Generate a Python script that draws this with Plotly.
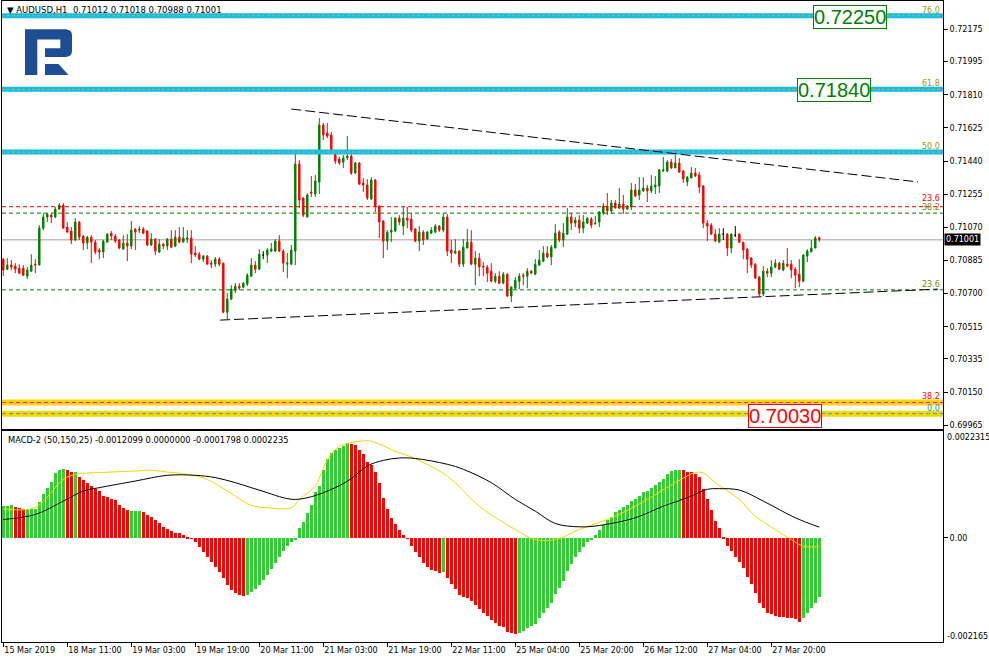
import plotly.graph_objects as go

# ---------------- data ----------------
opens = [0.70892,0.70836,0.70859,0.70853,0.70842,0.70842,0.70797,0.70825,0.70864,0.70859,
 0.71065,0.71127,0.71138,0.71127,0.71172,0.71194,0.71071,0.71049,0.70999,0.71099,
 0.71021,0.70982,0.71015,0.70987,0.70943,0.70932,0.70987,0.71037,0.71021,0.70999,
 0.70948,0.70982,0.70965,0.71060,0.71054,0.71060,0.71049,0.70971,0.71004,0.70932,
 0.70976,0.70965,0.71004,0.70965,0.71015,0.70987,0.71004,0.71010,0.70926,0.70920,
 0.70892,0.70909,0.70870,0.70864,0.70892,0.70870,0.70596,0.70669,0.70719,0.70741,
 0.70736,0.70753,0.70797,0.70859,0.70836,0.70915,0.70915,0.70937,0.70937,0.70993,
 0.70937,0.70864,0.70864,0.70937,0.71423,0.71233,0.71127,0.71267,0.71256,0.71323,
 0.71641,0.71596,0.71585,0.71485,0.71451,0.71434,0.71457,0.71468,0.71373,0.71429,
 0.71317,0.71306,0.71228,0.71334,0.71188,0.71105,0.70993,0.71043,0.71049,0.71121,
 0.71077,0.71121,0.71116,0.71060,0.70993,0.71043,0.71004,0.71037,0.71043,0.71077,
 0.71054,0.71127,0.70943,0.70926,0.70937,0.70864,0.70954,0.70987,0.70864,0.70898,
 0.70853,0.70848,0.70825,0.70769,0.70797,0.70758,0.70808,0.70686,0.70730,0.70769,
 0.70803,0.70797,0.70825,0.70808,0.70859,0.70881,0.70926,0.70904,0.70954,0.71043,
 0.70999,0.71032,0.71127,0.71093,0.71110,0.71065,0.71093,0.71116,0.71088,0.71099,
 0.71149,0.71188,0.71161,0.71205,0.71177,0.71200,0.71172,0.71183,0.71278,0.71250,
 0.71272,0.71289,0.71272,0.71295,0.71300,0.71384,0.71384,0.71434,0.71401,0.71429,
 0.71384,0.71323,0.71345,0.71373,0.71362,0.71300,0.71093,0.71082,0.71032,0.70987,
 0.71032,0.71032,0.70954,0.71026,0.71032,0.70987,0.70948,0.70898,0.70864,0.70792,
 0.70697,0.70825,0.70814,0.70848,0.70870,0.70831,0.70864,0.70864,0.70836,0.70808,
 0.70769,0.70909,0.70932,0.70954,0.71012]

highs = [0.70898,0.70898,0.70887,0.70870,0.70864,0.70859,0.70848,0.70920,0.70892,0.71082,
 0.71149,0.71149,0.71149,0.71183,0.71205,0.71205,0.71099,0.71071,0.71121,0.71105,
 0.71026,0.71021,0.71026,0.70999,0.70954,0.70999,0.71037,0.71049,0.71032,0.71004,
 0.71026,0.71032,0.71105,0.71065,0.71077,0.71071,0.71054,0.71037,0.71010,0.71004,
 0.70982,0.71010,0.71054,0.71054,0.71071,0.71071,0.71054,0.71054,0.70965,0.70932,
 0.70915,0.70915,0.70887,0.70904,0.70904,0.70870,0.70703,0.70747,0.70758,0.70758,
 0.70764,0.70814,0.70898,0.70881,0.70948,0.70937,0.70954,0.70982,0.71004,0.71026,
 0.70948,0.70926,0.70971,0.71496,0.71445,0.71239,0.71261,0.71356,0.71362,0.71680,
 0.71652,0.71652,0.71602,0.71490,0.71462,0.71473,0.71579,0.71479,0.71434,0.71434,
 0.71345,0.71339,0.71350,0.71339,0.71194,0.71110,0.71054,0.71127,0.71127,0.71138,
 0.71183,0.71183,0.71149,0.71065,0.71077,0.71054,0.71049,0.71071,0.71088,0.71082,
 0.71149,0.71144,0.70999,0.71004,0.70943,0.71004,0.71060,0.71054,0.70937,0.70926,
 0.70876,0.70859,0.70870,0.70814,0.70825,0.70820,0.70814,0.70741,0.70792,0.70814,
 0.70814,0.70842,0.70831,0.70892,0.70943,0.70965,0.70965,0.70971,0.71088,0.71054,
 0.71093,0.71177,0.71149,0.71127,0.71138,0.71138,0.71127,0.71127,0.71133,0.71161,
 0.71205,0.71261,0.71222,0.71222,0.71289,0.71250,0.71194,0.71317,0.71311,0.71350,
 0.71350,0.71306,0.71362,0.71356,0.71395,0.71462,0.71445,0.71451,0.71473,0.71457,
 0.71390,0.71356,0.71406,0.71401,0.71378,0.71306,0.71110,0.71093,0.71060,0.71065,
 0.71065,0.71037,0.71037,0.71077,0.71037,0.70987,0.70954,0.70904,0.70870,0.70797,
 0.70853,0.70842,0.70887,0.70892,0.70876,0.70887,0.70954,0.70887,0.70848,0.70892,
 0.70920,0.70948,0.70999,0.71021,0.71018]

lows = [0.70798,0.70831,0.70831,0.70814,0.70808,0.70797,0.70781,0.70820,0.70814,0.70859,
 0.71054,0.71099,0.71093,0.71121,0.71166,0.71065,0.71043,0.70976,0.70993,0.70999,
 0.70943,0.70948,0.70870,0.70920,0.70892,0.70898,0.70987,0.70999,0.70982,0.70948,
 0.70948,0.70881,0.70948,0.70943,0.71037,0.71032,0.70965,0.70965,0.70915,0.70926,
 0.70948,0.70943,0.70954,0.70959,0.70982,0.70987,0.70982,0.70870,0.70904,0.70887,
 0.70876,0.70864,0.70842,0.70848,0.70853,0.70591,0.70557,0.70664,0.70703,0.70719,
 0.70730,0.70741,0.70792,0.70814,0.70831,0.70892,0.70870,0.70932,0.70932,0.70932,
 0.70820,0.70786,0.70859,0.70859,0.71177,0.71127,0.71127,0.71239,0.71239,0.71256,
 0.71557,0.71568,0.71479,0.71423,0.71418,0.71401,0.71445,0.71362,0.71367,0.71306,
 0.71267,0.71222,0.71222,0.71155,0.71010,0.70898,0.70943,0.70987,0.71043,0.71082,
 0.71026,0.71065,0.71043,0.70987,0.70937,0.70971,0.70999,0.71032,0.71037,0.71043,
 0.71043,0.70909,0.70870,0.70920,0.70848,0.70848,0.70954,0.70859,0.70747,0.70797,
 0.70797,0.70764,0.70764,0.70758,0.70753,0.70753,0.70680,0.70652,0.70725,0.70725,
 0.70747,0.70730,0.70808,0.70803,0.70853,0.70876,0.70898,0.70859,0.70954,0.70987,
 0.70959,0.71026,0.71054,0.71071,0.71037,0.71037,0.71088,0.71065,0.71088,0.71071,
 0.71138,0.71138,0.71144,0.71177,0.71172,0.71144,0.71166,0.71166,0.71239,0.71222,
 0.71267,0.71211,0.71261,0.71256,0.71261,0.71378,0.71378,0.71395,0.71401,0.71373,
 0.71317,0.71300,0.71345,0.71350,0.71261,0.71065,0.70993,0.71026,0.70987,0.70987,
 0.70999,0.70909,0.70926,0.71015,0.70982,0.70892,0.70814,0.70842,0.70786,0.70686,
 0.70686,0.70792,0.70792,0.70842,0.70831,0.70825,0.70848,0.70786,0.70730,0.70736,
 0.70764,0.70876,0.70932,0.70954,0.70988]

closes = [0.70831,0.70859,0.70848,0.70836,0.70814,0.70803,0.70831,0.70859,0.70859,0.71065,
 0.71127,0.71144,0.71127,0.71172,0.71194,0.71065,0.71043,0.70999,0.71099,0.71015,
 0.70982,0.71015,0.70987,0.70932,0.70932,0.70993,0.71032,0.71021,0.70993,0.70954,
 0.70982,0.70965,0.71054,0.71043,0.71060,0.71037,0.70971,0.71004,0.70937,0.70976,
 0.70965,0.71004,0.70959,0.71015,0.70987,0.71010,0.71010,0.70920,0.70915,0.70892,
 0.70909,0.70864,0.70864,0.70892,0.70864,0.70596,0.70669,0.70725,0.70741,0.70730,
 0.70758,0.70803,0.70859,0.70836,0.70920,0.70915,0.70943,0.70948,0.70993,0.70937,
 0.70870,0.70870,0.70943,0.71423,0.71222,0.71138,0.71250,0.71261,0.71328,0.71641,
 0.71585,0.71579,0.71485,0.71440,0.71429,0.71457,0.71468,0.71373,0.71429,0.71311,
 0.71306,0.71233,0.71334,0.71188,0.71099,0.70993,0.71043,0.71054,0.71121,0.71099,
 0.71121,0.71110,0.71054,0.70993,0.71043,0.70999,0.71043,0.71054,0.71077,0.71054,
 0.71127,0.70937,0.70926,0.70937,0.70864,0.70959,0.70987,0.70864,0.70898,0.70848,
 0.70848,0.70814,0.70769,0.70797,0.70758,0.70808,0.70686,0.70736,0.70775,0.70797,
 0.70797,0.70825,0.70814,0.70864,0.70887,0.70926,0.70904,0.70959,0.71037,0.70999,
 0.71037,0.71127,0.71093,0.71110,0.71065,0.71099,0.71121,0.71082,0.71093,0.71155,
 0.71188,0.71161,0.71205,0.71177,0.71200,0.71172,0.71188,0.71278,0.71244,0.71278,
 0.71289,0.71272,0.71300,0.71306,0.71390,0.71390,0.71434,0.71401,0.71429,0.71378,
 0.71339,0.71350,0.71373,0.71356,0.71295,0.71093,0.71077,0.71032,0.70993,0.71032,
 0.71032,0.70954,0.71032,0.71026,0.70987,0.70943,0.70892,0.70859,0.70786,0.70697,
 0.70825,0.70814,0.70848,0.70870,0.70836,0.70870,0.70853,0.70831,0.70803,0.70769,
 0.70915,0.70937,0.70954,0.71010,0.71001]

macd_hist = [0.000665,0.000674,0.000695,0.000647,0.000630,0.000620,0.000600,0.000605,0.000610,0.000765,
 0.000925,0.001043,0.001168,0.001356,0.001425,0.001439,0.001411,0.001377,0.001382,0.001272,
 0.001217,0.001161,0.001078,0.001029,0.000987,0.000883,0.000869,0.000827,0.000800,0.000695,
 0.000626,0.000591,0.000565,0.000570,0.000575,0.000556,0.000487,0.000438,0.000382,0.000313,
 0.000229,0.000202,0.000160,0.000118,0.000104,0.000076,0.000035,0.000007,-0.000083,-0.000188,
 -0.000292,-0.000396,-0.000501,-0.000605,-0.000709,-0.000834,-0.000960,-0.001064,-0.001126,-0.001168,
 -0.001189,-0.001168,-0.001106,-0.001043,-0.000960,-0.000876,-0.000772,-0.000647,-0.000522,-0.000396,
 -0.000271,-0.000167,-0.000083,-0.000021,0.000209,0.000348,0.000521,0.000695,0.000973,0.001092,
 0.001425,0.001648,0.001773,0.001829,0.001877,0.001926,0.001982,0.001968,0.001947,0.001843,
 0.001752,0.001578,0.001530,0.001380,0.001150,0.000830,0.000615,0.000415,0.000299,0.000181,
 0.000076,-0.000010,-0.000153,-0.000292,-0.000396,-0.000521,-0.000605,-0.000654,-0.000688,-0.000723,
 -0.000709,-0.000834,-0.000953,-0.001057,-0.001175,-0.001217,-0.001231,-0.001300,-0.001384,-0.001460,
 -0.001544,-0.001613,-0.001697,-0.001766,-0.001822,-0.001836,-0.001947,-0.001975,-0.001980,-0.001961,
 -0.001926,-0.001870,-0.001822,-0.001773,-0.001662,-0.001544,-0.001439,-0.001335,-0.001147,-0.001022,
 -0.000883,-0.000688,-0.000535,-0.000396,-0.000292,-0.000188,-0.000083,-0.000014,0.000076,0.000181,
 0.000285,0.000382,0.000452,0.000542,0.000591,0.000647,0.000702,0.000772,0.000820,0.000890,
 0.000960,0.000994,0.001050,0.001112,0.001168,0.001238,0.001328,0.001398,0.001425,0.001430,
 0.001411,0.001377,0.001370,0.001342,0.001272,0.001029,0.000820,0.000598,0.000369,0.000209,
 0.000035,-0.000167,-0.000271,-0.000382,-0.000501,-0.000619,-0.000793,-0.000953,-0.001126,-0.001335,
 -0.001439,-0.001544,-0.001578,-0.001613,-0.001634,-0.001640,-0.001648,-0.001662,-0.001683,-0.001731,
 -0.001648,-0.001544,-0.001453,-0.001335,-0.0012099]

# indicator buffer each histogram bar belongs to (G = up buffer, R = down buffer), run-length
hist_color_runs = [("G", 3), ("R", 3), ("G", 10), ("R", 2), ("G", 1), ("R", 13), ("G", 3),
                   ("R", 26), ("G", 26), ("R", 23), ("G", 1), ("R", 18), ("G", 41),
                   ("R", 30), ("G", 5)]

signal_idx = [0, 8, 15, 18, 24, 33, 37, 41, 46, 51, 54, 58, 62, 66, 72, 74, 78, 80, 82, 84,
              86, 89, 92, 94, 98, 102, 111, 119, 128, 133, 138, 144, 153, 161, 168, 173, 175,
              178, 184, 188, 193, 197, 200, 204]
signal_val = [0.000605, 0.000632, 0.001216, 0.00132, 0.001356, 0.001389, 0.001404, 0.001368,
              0.00132, 0.001216, 0.001076, 0.000868, 0.000674, 0.000626, 0.000626, 0.0008,
              0.00108, 0.00145, 0.00175, 0.0019, 0.00196, 0.00201, 0.00201, 0.00195, 0.0018,
              0.00168, 0.001285, 0.000659, 0.000173, -0.000035, -0.000035, 0.000173, 0.000451,
              0.000799, 0.001147, 0.001356, 0.00135, 0.001147, 0.000799, 0.000451, 0.000173,
              -0.000035, -0.000175, -0.0001798]

slow_idx = [0, 8, 15, 20, 24, 33, 41, 48, 53, 58, 62, 66, 70, 73, 77, 83, 87, 91, 95, 99, 103,
            111, 115, 122, 128, 133, 138, 144, 149, 158, 165, 171, 176, 179, 184, 190, 198, 204]
slow_val = [0.000382, 0.000486, 0.000764, 0.000972, 0.001043, 0.001181, 0.0013, 0.0013,
            0.001252, 0.001147, 0.001043, 0.000939, 0.000834, 0.000799, 0.000855, 0.001043,
            0.001231, 0.001494, 0.00161, 0.00166, 0.00165, 0.001529, 0.001425, 0.001147,
            0.000799, 0.000555, 0.000298, 0.000229, 0.000257, 0.000417, 0.000659, 0.000834,
            0.001008, 0.001022, 0.000993, 0.000764, 0.000417, 0.0002235]

time_label_bars = [0, 16, 32, 48, 64, 80, 96, 112, 128, 144, 160, 176, 192]
time_labels = ["15 Mar 2019", "18 Mar 11:00", "19 Mar 03:00", "19 Mar 19:00", "20 Mar 11:00",
               "21 Mar 03:00", "21 Mar 19:00", "22 Mar 11:00", "25 Mar 04:00", "25 Mar 20:00",
               "26 Mar 12:00", "27 Mar 04:00", "27 Mar 20:00"]

price_ticks = [0.72175, 0.71995, 0.71810, 0.71625, 0.71440, 0.71255, 0.71070, 0.70885,
               0.70700, 0.70515, 0.70335, 0.70150, 0.69965]

# Fibonacci levels (label, price)
fib_main = [("0.0", 0.70030), ("23.6", 0.70721), ("38.2", 0.71149), ("50.0", 0.71490),
            ("61.8", 0.71840), ("76.0", 0.72250)]
fib_second = [("23.6", 0.71185), ("38.2", 0.70092)]
price_boxes = [("0.72250", 0.72250), ("0.71840", 0.71840), ("0.70030", 0.70030)]

# trend lines: (bar0, price0, bar1, price1)
trend_upper = (72, 0.71730, 228.7, 0.71323)
trend_lower = (54.2, 0.70552, 233.7, 0.70725)

symbol = "AUDUSD,H1"
last_ohlc = (0.71012, 0.71018, 0.70988, 0.71001)
macd_title = "MACD-2 (50,150,25) -0.0012099 0.0000000 -0.0001798 0.0002235"
macd_top, macd_bottom = 0.0022315, -0.002165

# ---------------- layout geometry ----------------
W, H = 989, 663
ML, MR, MT, MB = 2, 46, 1, 21
PW = W - ML - MR
PH = H - MT - MB


def px_x(X):
    return (X - ML) / PW


def px_y(Y):
    return (H - MB - Y) / PH


FONT = "DejaVu Sans, Verdana, sans-serif"
NARROW = "Liberation Sans Narrow, Arial Narrow, Liberation Sans, Arial, sans-serif"

n = len(closes)
idx = list(range(n))
body = [i for i in idx if opens[i] != closes[i]]
doji = [i for i in idx if opens[i] == closes[i]]

hist_colors = []
for c, k in hist_color_runs:
    hist_colors += [("#32CD32" if c == "G" else "#FF0000")] * k

fig = go.Figure()

fig.add_trace(go.Candlestick(
    x=body, open=[opens[i] for i in body], high=[highs[i] for i in body],
    low=[lows[i] for i in body], close=[closes[i] for i in body],
    increasing=dict(line=dict(color="#008000", width=1), fillcolor="#008000"),
    decreasing=dict(line=dict(color="#FF0000", width=1), fillcolor="#FF0000"),
    xaxis="x", yaxis="y", hoverinfo="skip", showlegend=False))
fig.add_trace(go.Candlestick(
    x=doji, open=[opens[i] for i in doji], high=[highs[i] for i in doji],
    low=[lows[i] for i in doji], close=[closes[i] for i in doji],
    increasing=dict(line=dict(color="#000000", width=1), fillcolor="#000000"),
    decreasing=dict(line=dict(color="#000000", width=1), fillcolor="#000000"),
    xaxis="x", yaxis="y", hoverinfo="skip", showlegend=False))

fig.add_trace(go.Bar(x=idx, y=macd_hist, marker=dict(color=hist_colors, line=dict(width=0)),
                     width=0.75, xaxis="x2", yaxis="y2", hoverinfo="skip", showlegend=False))
fig.add_trace(go.Scatter(x=signal_idx, y=signal_val, mode="lines",
                         line=dict(color="#FFD000", width=1, shape="spline", smoothing=1.0),
                         xaxis="x2", yaxis="y2", hoverinfo="skip", showlegend=False))
fig.add_trace(go.Scatter(x=slow_idx, y=slow_val, mode="lines",
                         line=dict(color="#000000", width=1, shape="spline", smoothing=1.0),
                         xaxis="x2", yaxis="y2", hoverinfo="skip", showlegend=False))

shapes = []


def hline(price, color, width, dash="solid", layer="above"):
    shapes.append(dict(type="line", xref="x domain", x0=0, x1=1, yref="y", y0=price, y1=price,
                       line=dict(color=color, width=width, dash=dash), layer=layer))


# current price line
hline(last_ohlc[3], "#C0C0C0", 1.5, layer="below")

fib = dict(fib_main)
for lab in ("76.0", "61.8", "50.0"):
    hline(fib[lab], "#00BFFF", 5)
    hline(fib[lab], "#FFA500", 1, "3px,2px")
hline(fib["38.2"], "#008000", 1, "4px,3px")
hline(fib["23.6"], "#008000", 1, "4px,3px")
hline(fib["0.0"], "#FFD700", 6)
hline(fib["0.0"], "#20B2AA", 1, "4px,3px")
sec = dict(fib_second)
hline(sec["23.6"], "#E00000", 1, "4px,3px")
hline(sec["38.2"], "#FFD700", 6)
hline(sec["38.2"], "#FF00FF", 1, "4px,3px")

for (b0, p0, b1, p1) in (trend_upper, trend_lower):
    shapes.append(dict(type="line", xref="x", yref="y", x0=b0, y0=p0, x1=b1, y1=p1,
                       line=dict(color="#000000", width=1, dash="10px,4px")))

# logo (decoration)
def pth(pts):
    return "M " + " L ".join(f"{px_x(a):.5f},{px_y(b):.5f}" for a, b in pts) + " Z"


logo_upper = [(25, 29.3), (66, 29.3), (69.5, 30.2), (71.4, 32.3), (72, 35.3), (72, 51),
              (71.4, 54), (69.5, 56.1), (66, 57), (45, 57), (45, 48.3), (60.3, 48.3),
              (60.3, 39.5), (37.3, 39.5), (37.3, 75), (25, 75)]
logo_leg = [(45, 64), (58.5, 64), (68.5, 75), (45, 75)]
for p in (logo_upper, logo_leg):
    shapes.append(dict(type="path", xref="paper", yref="paper", path=pth(p),
                       fillcolor="#1D4E93", line=dict(width=0)))

annotations = []
annotations.append(dict(
    xref="paper", yref="paper", x=px_x(5), y=px_y(10), xanchor="left", yanchor="middle",
    text="\u25bc\u00a0" + symbol + "\u00a0\u00a0" + " ".join(f"{v:.5f}" for v in last_ohlc),
    showarrow=False, font=dict(family=FONT, size=8.5, color="#000000")))
annotations.append(dict(
    xref="paper", yref="paper", x=px_x(6), y=px_y(439.5), xanchor="left", yanchor="middle",
    text=macd_title, showarrow=False, font=dict(family=FONT, size=8.3, color="#000000")))

label_colors = {"76.0": "#A09400", "61.8": "#A09400", "50.0": "#A09400",
                "38.2": "#6E8B00", "23.6": "#6E8B00", "0.0": "#20A0A0"}
for lab, p in fib_main:
    annotations.append(dict(xref="paper", yref="y", x=px_x(941), y=p, xanchor="right",
                            yanchor="bottom", text=lab, showarrow=False, borderpad=0,
                            font=dict(family=FONT, size=8, color=label_colors[lab])))
for lab, p in fib_second:
    annotations.append(dict(xref="paper", yref="y", x=px_x(941), y=p, xanchor="right",
                            yanchor="bottom", text=lab, showarrow=False, borderpad=0,
                            yshift=3 if lab == "23.6" else 1,
                            font=dict(family=FONT, size=8, color="#FF0000")))

box_right = {"0.72250": 887, "0.71840": 871, "0.70030": 822}
box_col = {"0.72250": "#008000", "0.71840": "#008000", "0.70030": "#FF0000"}
for lab, p in price_boxes:
    annotations.append(dict(xref="paper", yref="y", x=px_x(box_right[lab]), y=p,
                            xanchor="right", yanchor="middle", text=lab, showarrow=False,
                            bgcolor="#FFFFFF", bordercolor=box_col[lab], borderwidth=1,
                            borderpad=0, yshift=-1 if lab != "0.70030" else -2,
                            font=dict(family=NARROW, size=20, color=box_col[lab])))

annotations.append(dict(xref="paper", yref="y", x=1, y=last_ohlc[3], xanchor="left",
                        yanchor="middle", xshift=1, text=f"{last_ohlc[3]:.5f}", showarrow=False,
                        bgcolor="#000000", borderpad=1,
                        font=dict(family=FONT, size=8, color="#FFFFFF")))
annotations.append(dict(xref="paper", yref="paper", x=1, y=px_y(437), xanchor="left",
                        yanchor="middle", xshift=2, text=f"{macd_top:.7f}", showarrow=False,
                        font=dict(family=FONT, size=8, color="#000000")))
annotations.append(dict(xref="paper", yref="paper", x=1, y=px_y(636), xanchor="left",
                        yanchor="middle", xshift=2, text=f"{macd_bottom:.6f}", showarrow=False,
                        font=dict(family=FONT, size=8, color="#000000")))

x_left = (ML - 3.3) / 4.0
x_right = (W - MR - 3.3) / 4.0
axis_common = dict(showline=True, linecolor="#000000", linewidth=1, mirror=True,
                   showgrid=False, zeroline=False)

fig.update_layout(
    width=W, height=H, margin=dict(l=ML, r=MR, t=MT, b=MB),
    paper_bgcolor="#FFFFFF", plot_bgcolor="#FFFFFF", showlegend=False, boxgap=0.5,
    bargap=0, hovermode=False,
    font=dict(family=FONT, size=8, color="#000000"),
    xaxis=dict(domain=[0, 1], anchor="y", range=[x_left, x_right], showticklabels=False,
               ticks="", rangeslider=dict(visible=False), **axis_common),
    xaxis2=dict(domain=[0, 1], anchor="y2", range=[x_left, x_right], matches="x",
                tickmode="array", tickvals=time_label_bars, ticktext=time_labels,
                ticks="outside", ticklen=4, tickcolor="#000000",
                ticklabelposition="outside right",
                tickfont=dict(family=FONT, size=8, color="#000000"), **axis_common),
    yaxis=dict(domain=[px_y(428.5), 1], anchor="x", side="right", range=[0.69947, 0.72333],
               tickmode="array", tickvals=price_ticks,
               ticktext=[f"{v:.5f}" for v in price_ticks], ticks="outside", ticklen=4,
               tickcolor="#000000", tickfont=dict(family=FONT, size=8, color="#000000"),
               **axis_common),
    yaxis2=dict(domain=[0, px_y(430.5)], anchor="x2", side="right",
                range=[macd_bottom, macd_top], tickmode="array", tickvals=[0],
                ticktext=["0.00"], ticks="outside", ticklen=4, tickcolor="#000000",
                tickfont=dict(family=FONT, size=8, color="#000000"), **axis_common),
    shapes=shapes, annotations=annotations,
)

fig.write_html("out.html", config={"displayModeBar": False},
               post_script="document.body.style.margin='0';document.body.style.overflow='hidden';")
